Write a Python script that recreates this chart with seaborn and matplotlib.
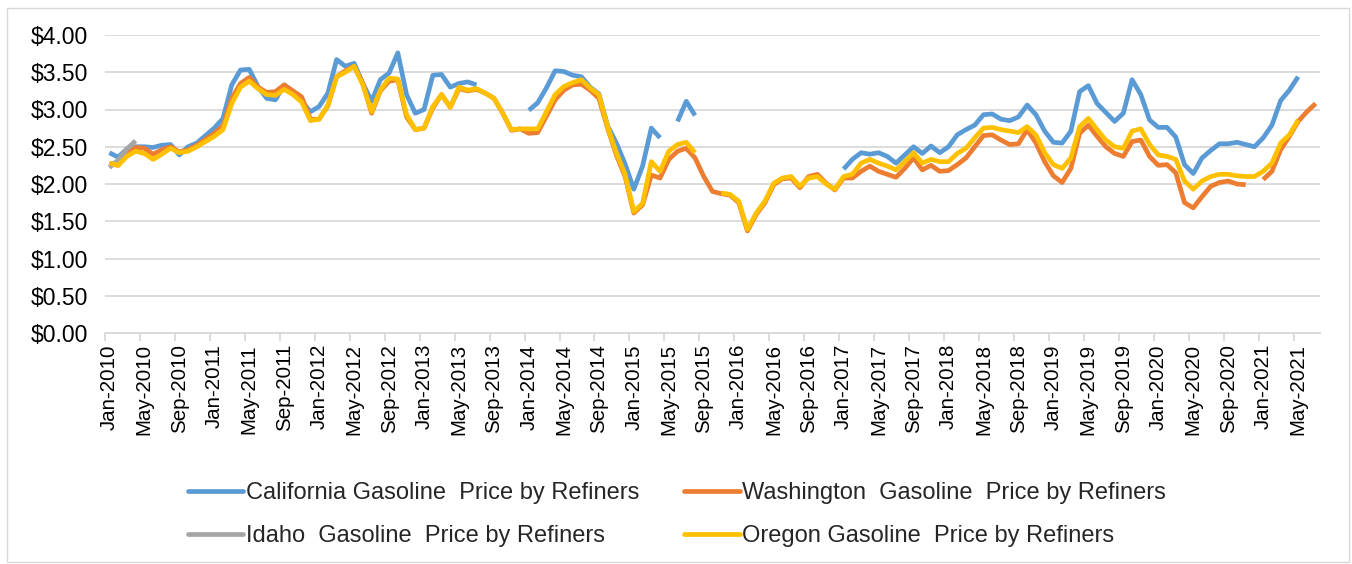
import numpy as np
import pandas as pd
import matplotlib
matplotlib.use("Agg")
import matplotlib.pyplot as plt
import seaborn as sns
from matplotlib.lines import Line2D
from matplotlib.patches import Rectangle
from matplotlib.ticker import FuncFormatter, FixedLocator

nan = np.nan

# ---- categories ----
months = pd.date_range("2010-01-01", periods=139, freq="MS")
month_labels = [d.strftime("%b-%Y") for d in months]
tick_every = 4

# ---- series values ($/gal) ----
california = [
    2.42, 2.36, 2.47, 2.50, 2.50, 2.49, 2.52, 2.53, 2.39, 2.50,
    2.55, 2.65, 2.75, 2.88, 3.33, 3.53, 3.54, 3.31, 3.15, 3.13,
    3.33, 3.24, 3.11, 2.97, 3.04, 3.22, 3.67, 3.58, 3.62, 3.35,
    3.11, 3.40, 3.49, 3.76, 3.20, 2.95, 3.00, 3.46, 3.47, 3.30,
    3.35, 3.37, 3.33, nan, nan, nan, nan, nan, 2.99, 3.09,
    3.29, 3.52, 3.51, 3.46, 3.44, 3.30, 3.21, 2.78, 2.55, 2.27,
    1.93, 2.24, 2.75, 2.62, nan, 2.84, 3.11, 2.92, nan, nan,
    nan, nan, nan, nan, nan, nan, nan, nan, nan, nan,
    nan, nan, nan, nan, 2.20, 2.33, 2.42, 2.40, 2.42, 2.37,
    2.28, 2.39, 2.50, 2.41, 2.51, 2.42, 2.50, 2.66, 2.73, 2.79,
    2.93, 2.94, 2.87, 2.85, 2.90, 3.06, 2.93, 2.71, 2.56, 2.55,
    2.71, 3.24, 3.32, 3.08, 2.96, 2.84, 2.95, 3.40, 3.20, 2.86,
    2.76, 2.76, 2.63, 2.26, 2.14, 2.35, 2.45, 2.54, 2.54, 2.56,
    2.53, 2.50, 2.62, 2.79, 3.12, 3.26, 3.44, nan, nan,
]
washington = [
    2.28, 2.25, 2.40, 2.49, 2.48, 2.40, 2.46, 2.50, 2.43, 2.46,
    2.52, 2.60, 2.68, 2.78, 3.15, 3.35, 3.43, 3.30, 3.23, 3.24,
    3.33, 3.25, 3.17, 2.87, 2.87, 3.05, 3.44, 3.52, 3.58, 3.35,
    2.95, 3.25, 3.38, 3.40, 2.90, 2.73, 2.75, 3.02, 3.20, 3.03,
    3.28, 3.25, 3.27, 3.22, 3.15, 2.95, 2.72, 2.74, 2.68, 2.69,
    2.91, 3.13, 3.26, 3.33, 3.34, 3.26, 3.15, 2.75, 2.39, 2.10,
    1.61, 1.72, 2.12, 2.08, 2.33, 2.44, 2.48, 2.35, 2.10, 1.90,
    1.87, 1.85, 1.75, 1.37, 1.59, 1.75, 1.99, 2.07, 2.08, 1.95,
    2.10, 2.13, 2.01, 1.92, 2.08, 2.08, 2.17, 2.24, 2.17, 2.13,
    2.09, 2.21, 2.35, 2.19, 2.25, 2.17, 2.18, 2.26, 2.35, 2.50,
    2.65, 2.66, 2.59, 2.53, 2.54, 2.73, 2.55, 2.30, 2.11, 2.02,
    2.21, 2.68, 2.79, 2.64, 2.50, 2.41, 2.37, 2.57, 2.59, 2.37,
    2.25, 2.26, 2.15, 1.75, 1.68, 1.83, 1.97, 2.02, 2.04, 2.00,
    1.99, nan, 2.06, 2.17, 2.46, 2.64, 2.84, 2.97, 3.08,
]
idaho = [2.22, 2.32, 2.47, 2.58] + [nan] * 135
oregon = [
    2.28, 2.25, 2.37, 2.44, 2.41, 2.33, 2.40, 2.48, 2.42, 2.44,
    2.50, 2.57, 2.64, 2.73, 3.08, 3.30, 3.38, 3.28, 3.20, 3.19,
    3.27, 3.20, 3.10, 2.85, 2.87, 3.06, 3.44, 3.50, 3.58, 3.33,
    2.97, 3.26, 3.42, 3.41, 2.93, 2.73, 2.75, 3.04, 3.20, 3.03,
    3.30, 3.26, 3.28, 3.22, 3.15, 2.95, 2.73, 2.74, 2.74, 2.74,
    2.97, 3.20, 3.31, 3.36, 3.40, 3.29, 3.20, 2.77, 2.42, 2.13,
    1.63, 1.74, 2.30, 2.17, 2.44, 2.53, 2.56, 2.42, nan, nan,
    1.88, 1.86, 1.77, 1.39, 1.61, 1.77, 2.01, 2.08, 2.10, 1.97,
    2.08, 2.10, 2.00, 1.93, 2.10, 2.13, 2.28, 2.33, 2.28, 2.24,
    2.19, 2.30, 2.42, 2.28, 2.33, 2.30, 2.30, 2.41, 2.48, 2.62,
    2.75, 2.76, 2.73, 2.71, 2.69, 2.77, 2.66, 2.42, 2.26, 2.21,
    2.35, 2.77, 2.88, 2.73, 2.59, 2.50, 2.48, 2.71, 2.74, 2.53,
    2.39, 2.37, 2.33, 2.04, 1.93, 2.04, 2.10, 2.13, 2.13, 2.11,
    2.10, 2.10, 2.17, 2.28, 2.55, 2.66, 2.86, nan, nan,
]

series_names = [
    "California Gasoline  Price by Refiners",
    "Washington  Gasoline  Price by Refiners",
    "Idaho  Gasoline  Price by Refiners",
    "Oregon Gasoline  Price by Refiners",
]
series_values = [california, washington, idaho, oregon]
series_colors = ["#5B9BD5", "#ED7D31", "#A5A5A5", "#FFC000"]

# ---- figure ----
sns.set_theme(style="white")
plt.rcParams["font.family"] = ["Liberation Sans", "DejaVu Sans"]

fig = plt.figure(figsize=(13.52, 5.64), dpi=100)
ax = fig.add_axes([105 / 1352, 1 - 333 / 564, (1320 - 105) / 1352, (333 - 35) / 564])

lw = 3.4
x_idx = np.arange(len(months))
for z, (name, vals, col) in enumerate(zip(series_names, series_values, series_colors)):
    v = np.array(vals, dtype=float)
    valid = ~np.isnan(v)
    seg = np.cumsum(np.r_[True, valid[1:] != valid[:-1]])
    df = pd.DataFrame({"m": x_idx, "price": v, "seg": seg})[valid]
    sns.lineplot(data=df, x="m", y="price", units="seg", estimator=None,
                 color=col, linewidth=lw, ax=ax, zorder=3 + z,
                 solid_capstyle="butt", solid_joinstyle="round")

ax.set_xlim(-0.5, len(months) - 0.5)
ax.set_ylim(0, 4)
ax.set_yticks(np.arange(0, 4.01, 0.5))
ax.yaxis.set_major_formatter(FuncFormatter(lambda v, p: f"${v:.2f}"))
ax.grid(axis="y", color="#d9d9d9", linewidth=1.3)
ax.grid(axis="x", visible=False)
ax.set_axisbelow(True)

tick_pos = x_idx[::tick_every]
ax.set_xticks(tick_pos)
ax.set_xticklabels([month_labels[i] for i in tick_pos], rotation=90, fontsize=14.8)
ax.xaxis.set_minor_locator(FixedLocator(tick_pos - 0.5))
ax.tick_params(axis="x", which="major", length=0, pad=8, colors="black")
ax.tick_params(axis="x", which="minor", length=6, width=1.3, color="#d9d9d9", direction="out", bottom=True)
ax.tick_params(axis="y", length=0, pad=12, labelsize=16.5, colors="black")
ax.set_xlabel("")
ax.set_ylabel("")

for s in ["top", "right", "left"]:
    ax.spines[s].set_visible(False)
ax.spines["bottom"].set_color("#d9d9d9")
ax.spines["bottom"].set_linewidth(1.3)

# legend: row-major order California, Washington / Idaho, Oregon
handles = [Line2D([0], [0], color=c, lw=lw) for c in series_colors]
order = [0, 2, 1, 3]
fig.legend([handles[i] for i in order], [series_names[i] for i in order],
           ncol=2, loc="center", bbox_to_anchor=(677 / 1352, 1 - 514.5 / 564),
           frameon=False, fontsize=17, handlelength=2.35, handletextpad=0.12,
           columnspacing=1.9, labelspacing=0.88)

fig.patches.append(Rectangle((7 / 1352, 2 / 564), (1349 - 7) / 1352, (562 - 8) / 564,
                             transform=fig.transFigure, fill=False,
                             edgecolor="#d9d9d9", linewidth=1.0))

fig.savefig("out.png", dpi=100, facecolor="white")
